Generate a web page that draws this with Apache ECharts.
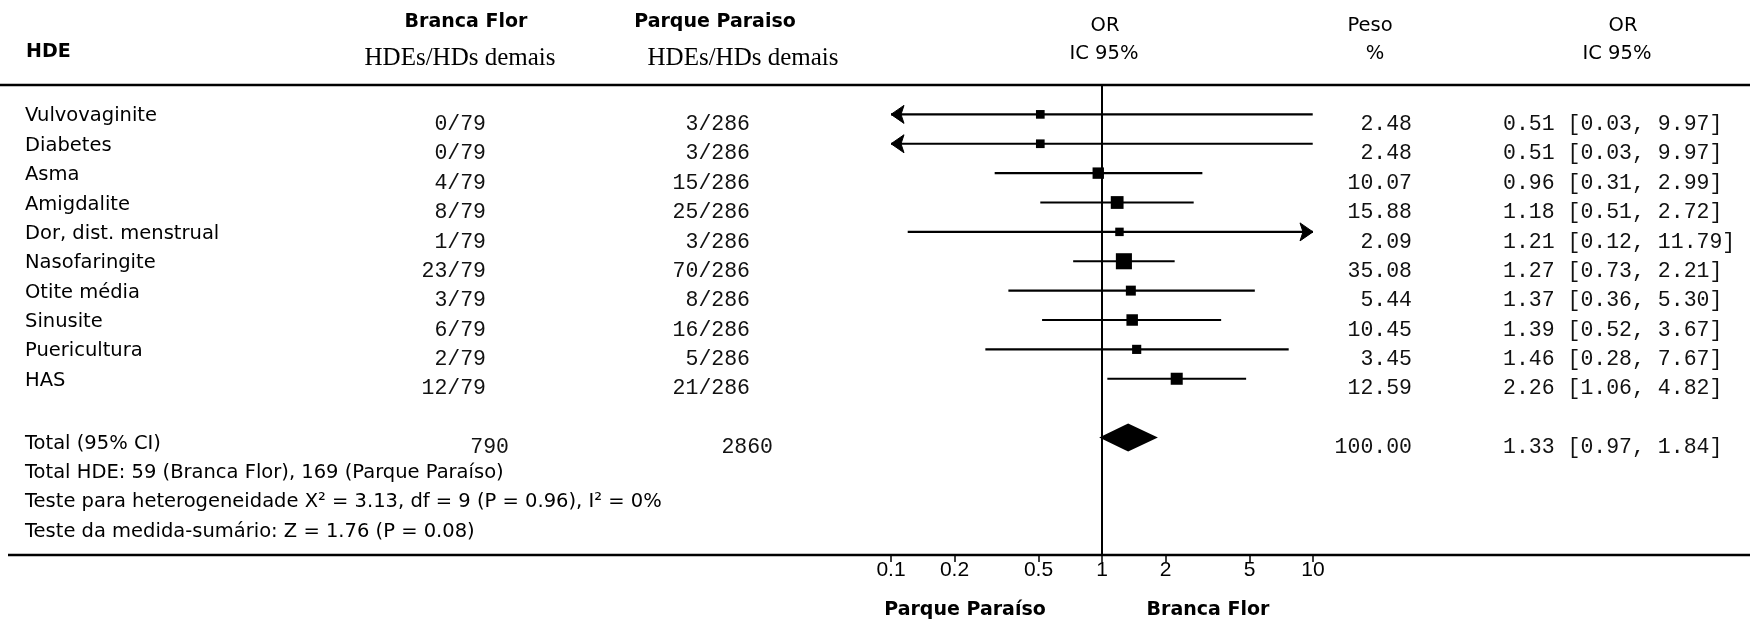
<!DOCTYPE html>
<html lang="pt-BR">
<head>
<meta charset="UTF-8">
<title>HDE - Branca Flor x Parque Paraíso</title>
<script src="https://cdn.jsdelivr.net/npm/echarts@6/dist/echarts.min.js"></script>
<style>
  html, body { margin: 0; padding: 0; background: #fff; }
  #chart { width: 1756px; height: 622px; }
</style>
</head>
<body>
<div id="chart"></div>
<script>
  // dados
  const categories = ['Vulvovaginite', 'Diabetes', 'Asma', 'Amigdalite', 'Dor, dist. menstrual',
    'Nasofaringite', 'Otite média', 'Sinusite', 'Puericultura', 'HAS'];
  const brancaFlor = ['0/79', '0/79', '4/79', '8/79', '1/79', '23/79', '3/79', '6/79', '2/79', '12/79'];
  const parqueParaiso = ['3/286', '3/286', '15/286', '25/286', '3/286', '70/286', '8/286', '16/286', '5/286', '21/286'];
  const peso = [2.48, 2.48, 10.07, 15.88, 2.09, 35.08, 5.44, 10.45, 3.45, 12.59];
  const oddsRatio = [0.51, 0.51, 0.96, 1.18, 1.21, 1.27, 1.37, 1.39, 1.46, 2.26];
  const ciLow = [0.03, 0.03, 0.31, 0.51, 0.12, 0.73, 0.36, 0.52, 0.28, 1.06];
  const ciHigh = [9.97, 9.97, 2.99, 2.72, 11.79, 2.21, 5.30, 3.67, 7.67, 4.82];

  const totalLabel = 'Total (95% CI)';
  const totalBrancaFlor = '790';
  const totalParque = '2860';
  const totalPeso = 100.00;
  const totalOR = 1.33, totalLow = 0.97, totalHigh = 1.84;

  const summaryLines = [
    'Total HDE: 59 (Branca Flor), 169 (Parque Paraíso)',
    'Teste para heterogeneidade X² = 3.13, df = 9 (P = 0.96), I² = 0%',
    'Teste da medida-sumário: Z = 1.76 (P = 0.08)'
  ];

  const xTicks = [0.1, 0.2, 0.5, 1, 2, 5, 10];

  // escala
  const X_MIN = 0.1, X_MAX = 10;
  const ROW_MIN = -1, ROW_MAX = 15;
  const TOTAL_ROW = 11;

  // layout (px)
  const GRID_TOP = 85, GRID_BOTTOM = 67, H = 622;
  const COL_LABEL = 25, COL_BF = 486, COL_PP = 750, COL_PESO = 1412, COL_CI = 1503;

  const LABEL_FONT = '19.5px "DejaVu Sans", sans-serif';
  const HEAD_FONT = '19.5px "DejaVu Sans", sans-serif';
  const BOLD_FONT = 'bold 19px "DejaVu Sans", sans-serif';
  const NUM_FONT = '21.5px "Liberation Mono", monospace';
  const SERIF_FONT = '25px "Liberation Serif", serif';

  function fmtCI(or, lo, hi) {
    return or.toFixed(2) + ' [' + lo.toFixed(2) + ', ' + hi.toFixed(2) + ']';
  }

  function txt(x, y, str, font, align, fill) {
    return {
      type: 'text', x: x, y: y, silent: true,
      style: { text: str, font: font, fill: fill || '#000', align: align || 'left', verticalAlign: 'middle' }
    };
  }

  // linhas da tabela
  const tableRows = categories.map((c, i) => ({
    row: i, label: c, bf: brancaFlor[i], pp: parqueParaiso[i],
    peso: peso[i].toFixed(2), ci: fmtCI(oddsRatio[i], ciLow[i], ciHigh[i]), shift: 0, dy: 2
  }));
  tableRows.push({
    row: TOTAL_ROW, label: totalLabel, bf: totalBrancaFlor, pp: totalParque,
    peso: totalPeso.toFixed(2), ci: fmtCI(totalOR, totalLow, totalHigh), shift: 23, dy: 6
  });
  summaryLines.forEach((s, k) => tableRows.push({ row: TOTAL_ROW + 1 + k, label: s, dy: 6 }));

  const studyData = categories.map((c, i) => [oddsRatio[i], ciLow[i], ciHigh[i], peso[i], i]);

  function arrowHead(p, dir) {
    // dir -1 = esquerda, 1 = direita
    const x = p[0], y = p[1];
    return {
      type: 'polygon',
      shape: { points: [[x, y], [x - dir * 13, y - 9], [x - dir * 10, y], [x - dir * 13, y + 9]] },
      style: { fill: '#000', stroke: '#000', lineWidth: 1 }
    };
  }

  function renderStudy(params, api) {
    const or = api.value(0), lo = api.value(1), hi = api.value(2), w = api.value(3), row = api.value(4);
    const left = api.coord([Math.max(lo, X_MIN), row]);
    const right = api.coord([Math.min(hi, X_MAX), row]);
    const mid = api.coord([or, row]);
    const s = 6 + 1.7 * Math.sqrt(w);
    const kids = [
      { type: 'line', shape: { x1: left[0], y1: left[1], x2: right[0], y2: right[1] },
        style: { stroke: '#000', lineWidth: 2.2 } },
      { type: 'rect', shape: { x: mid[0] - s / 2, y: mid[1] - s / 2, width: s, height: s },
        style: { fill: '#000' } }
    ];
    if (lo < X_MIN) kids.push(arrowHead(left, -1));
    if (hi > X_MAX) kids.push(arrowHead(right, 1));
    return { type: 'group', children: kids };
  }

  function renderDiamond(params, api) {
    const row = api.value(3);
    const l = api.coord([api.value(1), row]);
    const r = api.coord([api.value(2), row]);
    const c = api.coord([api.value(0), row]);
    const h = 14;
    return {
      type: 'polygon',
      shape: { points: [[l[0], l[1]], [c[0], c[1] - h], [r[0], r[1]], [c[0], c[1] + h]] },
      style: { fill: '#000' }
    };
  }

  function renderTable(params, api) {
    const r = tableRows[params.dataIndex];
    const y = api.coord([X_MIN, r.row])[1];
    const kids = [txt(COL_LABEL, y + r.dy, r.label, LABEL_FONT, 'left')];
    if (r.bf) kids.push(txt(COL_BF + r.shift, y + 10, r.bf, NUM_FONT, 'right', '#111'));
    if (r.pp) kids.push(txt(COL_PP + r.shift, y + 10, r.pp, NUM_FONT, 'right', '#111'));
    if (r.peso) kids.push(txt(COL_PESO, y + 10, r.peso, NUM_FONT, 'right', '#111'));
    if (r.ci) kids.push(txt(COL_CI, y + 10, r.ci, NUM_FONT, 'left', '#111'));
    return { type: 'group', children: kids };
  }

  const chart = echarts.init(document.getElementById('chart'));
  const axisY = H - GRID_BOTTOM;

  chart.setOption({
    animation: false,
    backgroundColor: '#fff',
    grid: { left: 891, right: 443, top: GRID_TOP, bottom: GRID_BOTTOM },
    xAxis: {
      type: 'log', logBase: 10, min: X_MIN, max: X_MAX,
      axisLine: { show: false, onZero: false },
      splitLine: { show: false },
      minorTick: { show: false },
      axisTick: { show: true, customValues: xTicks, length: 7, lineStyle: { color: '#000', width: 1.5 } },
      axisLabel: {
        customValues: xTicks, color: '#000', margin: 5,
        fontFamily: '"Liberation Sans", Arial, sans-serif', fontSize: 21,
        formatter: v => String(+(+v).toPrecision(3))
      }
    },
    yAxis: { type: 'value', inverse: true, min: ROW_MIN, max: ROW_MAX, show: false },
    graphic: [
      { type: 'line', silent: true, shape: { x1: 0, y1: GRID_TOP, x2: 1750, y2: GRID_TOP },
        style: { stroke: '#000', lineWidth: 2.5 } },
      { type: 'line', silent: true, shape: { x1: 8, y1: axisY, x2: 1750, y2: axisY },
        style: { stroke: '#000', lineWidth: 2.5 } },
      txt(26, 52, 'HDE', BOLD_FONT, 'left'),
      txt(466, 22, 'Branca Flor', BOLD_FONT, 'center'),
      txt(460, 58, 'HDEs/HDs demais', SERIF_FONT, 'center'),
      txt(715, 22, 'Parque Paraiso', BOLD_FONT, 'center'),
      txt(743, 58, 'HDEs/HDs demais', SERIF_FONT, 'center'),
      txt(1105, 26, 'OR', HEAD_FONT, 'center'),
      txt(1104, 54, 'IC 95%', HEAD_FONT, 'center'),
      txt(1370, 26, 'Peso', HEAD_FONT, 'center'),
      txt(1375, 54, '%', HEAD_FONT, 'center'),
      txt(1623, 26, 'OR', HEAD_FONT, 'center'),
      txt(1617, 54, 'IC 95%', HEAD_FONT, 'center'),
      txt(965, 610, 'Parque Paraíso', BOLD_FONT, 'center'),
      txt(1208, 610, 'Branca Flor', BOLD_FONT, 'center')
    ],
    series: [
      {
        name: 'OR = 1', type: 'line', silent: true, symbol: 'none',
        data: [[1, ROW_MIN], [1, ROW_MAX]],
        lineStyle: { color: '#000', width: 2 }
      },
      {
        name: 'estudos', type: 'custom', silent: true,
        renderItem: renderStudy,
        encode: { x: [0, 1, 2], y: 4 },
        data: studyData
      },
      {
        name: 'total', type: 'custom', silent: true,
        renderItem: renderDiamond,
        encode: { x: [0, 1, 2], y: 3 },
        data: [[totalOR, totalLow, totalHigh, TOTAL_ROW]]
      },
      {
        name: 'tabela', type: 'custom', silent: true,
        renderItem: renderTable,
        encode: { x: 0, y: 1 },
        data: tableRows.map(r => [X_MIN, r.row])
      }
    ]
  });
</script>
</body>
</html>
